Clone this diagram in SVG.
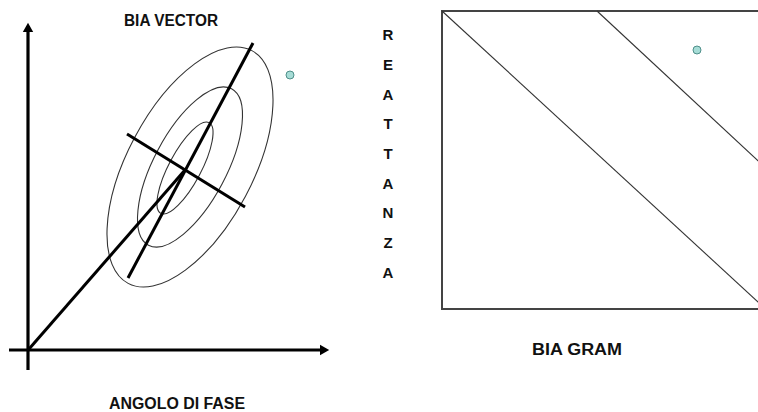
<svg xmlns="http://www.w3.org/2000/svg" width="758" height="412" viewBox="0 0 758 412">
<defs>
<style>
.t{font-family:"Liberation Sans",Arial,sans-serif;font-weight:bold;fill:#111;}
.ax{stroke:#000;stroke-width:3.2;fill:none;}
.thick{stroke:#000;stroke-width:3;fill:none;stroke-linecap:butt;}
.ell{stroke:#333;stroke-width:1.1;fill:none;}
.dot{fill:#a6dcd6;stroke:#4f8f8a;stroke-width:1;}
.thin{stroke:#333;stroke-width:1.1;fill:none;}
</style>
<marker id="arr" markerWidth="4" markerHeight="4" refX="2" refY="2" orient="auto" markerUnits="strokeWidth">
<path d="M0,0.3 L3,2 L0,3.7 Z" fill="#000"/>
</marker>
</defs>
<rect width="758" height="412" fill="#fff"/>
<g id="vector-plot">
<g id="axes">
<line class="ax" x1="28" y1="370" x2="28" y2="26" marker-end="url(#arr)"/>
<line class="ax" x1="9" y1="350" x2="326" y2="350" marker-end="url(#arr)"/>
</g>
<g id="ellipses">
<ellipse class="ell" cx="190" cy="167" rx="62.7" ry="131.8" transform="rotate(28 190 167)"/>
<ellipse class="ell" cx="190" cy="167" rx="36.3" ry="88.5" transform="rotate(28 190 167)"/>
<ellipse class="ell" cx="185" cy="168" rx="16.1" ry="51.4" transform="rotate(28 185 168)"/>
</g>
<g id="connectors">
<line class="thick" x1="29" y1="349" x2="185" y2="170"/>
<line class="thick" x1="128" y1="278" x2="253" y2="43"/>
<line class="thick" x1="127" y1="134" x2="245" y2="207"/>
</g>
<circle id="dot-left" class="dot" cx="290" cy="75" r="4"/>
<text id="title-vector" class="t" x="171" y="26" font-size="16" text-anchor="middle" textLength="94" lengthAdjust="spacingAndGlyphs">BIA VECTOR</text>
<text id="label-angolo" class="t" x="177" y="409" font-size="16" text-anchor="middle" textLength="136" lengthAdjust="spacingAndGlyphs">ANGOLO DI FASE</text>
</g>
<g id="biagram">
<rect x="442" y="11" width="330" height="298" fill="none" stroke="#444" stroke-width="2"/>
<line class="thin" x1="442" y1="11" x2="770" y2="313"/>
<line class="thin" x1="597" y1="11" x2="770" y2="172"/>
<circle id="dot-right" class="dot" cx="697" cy="50" r="4"/>
<g id="label-reattanza" class="t" font-size="15" text-anchor="middle">
<text x="388" y="40">R</text>
<text x="388" y="69.5">E</text>
<text x="388" y="99.5">A</text>
<text x="388" y="129">T</text>
<text x="388" y="159">T</text>
<text x="388" y="188.5">A</text>
<text x="388" y="218">N</text>
<text x="388" y="248">Z</text>
<text x="388" y="278">A</text>
</g>
<text id="title-gram" class="t" x="577" y="355" font-size="16" text-anchor="middle" textLength="90" lengthAdjust="spacingAndGlyphs">BIA GRAM</text>
</g>
</svg>
